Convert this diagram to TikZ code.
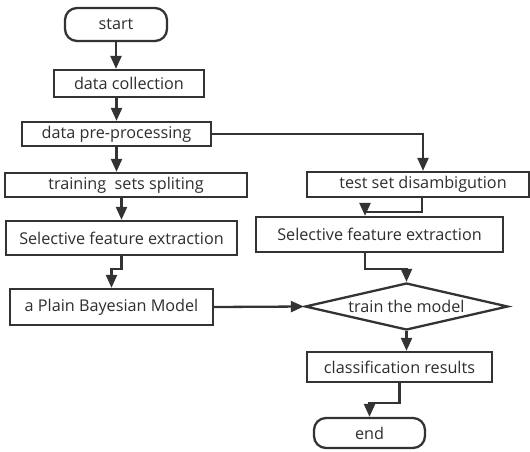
\documentclass[tikz,border=0pt]{standalone}
\usepackage{fontspec}
\setmainfont{Open Sans}
\usetikzlibrary{shapes.geometric,arrows.meta,calc}
\begin{document}
\begin{tikzpicture}[x=1pt,y=-1pt,
  font=\fontsize{16.2}{19}\selectfont,
  txt/.style={text=black!82},
  box/.style={draw=black!80,line width=2.3pt,fill=white,inner sep=0pt,txt},
  term/.style={box,rounded corners=12pt},
  dec/.style={draw=black!80,line width=2.3pt,diamond,inner sep=0pt,txt},
  flow/.style={draw=black!80,line width=2.3pt,-{Triangle[length=13pt,width=11pt]}}]
\useasboundingbox (0,0) rectangle (530,451);
\node[term,minimum width=102pt,minimum height=33pt] (start) at (116,24.5) {start};
\node[box,minimum width=150pt,minimum height=27pt] (dc) at (129,83.5) {data collection};
\node[box,minimum width=189pt,minimum height=24pt] (pre) at (116.5,134) {data pre-processing};
\node[box,minimum width=242pt,minimum height=24pt] (train) at (126,185) {training\ \ sets spliting};
\node[box,minimum width=231pt,minimum height=34pt] (sel1) at (121.5,238) {Selective feature extraction};
\node[box,minimum width=203pt,minimum height=36pt] (bayes) at (111.5,307) {a Plain Bayesian Model};
\node[box,minimum width=222pt,minimum height=25pt] (test) at (418,184.5) {\hspace*{10pt}test set disambigution};
\node[box,minimum width=247pt,minimum height=35pt] (sel2) at (379.5,234.5) {Selective feature extraction};
\node[dec,minimum width=203pt,minimum height=47pt,aspect=4.3] (dia) at (406.5,306.5) {train the model};
\node[box,minimum width=185pt,minimum height=30pt] (cls) at (399.5,367) {classification results};
\node[term,minimum width=111pt,minimum height=30pt] (end) at (369.5,433) {end};

\draw[flow] (start.south) -- (start.south |- dc.north);
\draw[flow] (pre |- dc.south) -- (pre.north);
\draw[flow] (pre.south) -- (pre.south |- train.north);
\draw[flow] (sel1.north |- train.south) -- (sel1.north);
\draw[flow] (sel1.south) -- ++(0,13) -| (bayes.north);
\draw[flow] (bayes.east) -- (dia.west);
\draw[flow] (pre.east) -| ([xshift=5pt]test.north);
\draw[flow] ([xshift=4pt]test.south) -- ++(0,14) -| ([xshift=-14.5pt]sel2.north);
\draw[flow] ([xshift=-14.5pt]sel2.south) -- ++(0,16) -| (dia.north);
\draw[flow] (dia.south) -- (dia.south |- cls.north);
\draw[flow] (cls.south) -- ++(0,20) -| (end.north);
\end{tikzpicture}
\end{document}
